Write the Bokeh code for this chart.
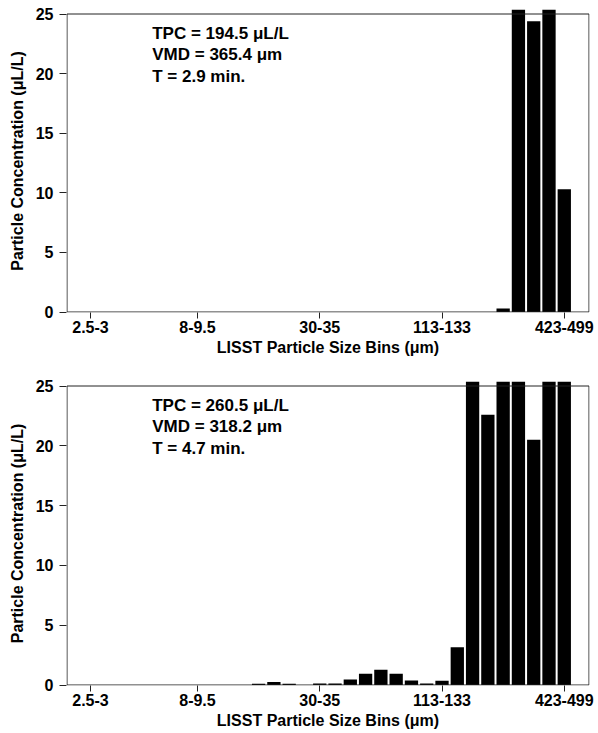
from bokeh.plotting import figure
from bokeh.layouts import column
from bokeh.models import ColumnDataSource, Range1d, FixedTicker, BoxAnnotation, Label
from bokeh.embed import file_html
from bokeh.resources import INLINE

# ---- data ----
bins = list(range(1, 33))
tick_bins = [1, 8, 16, 24, 32]
tick_labels = ["2.5-3", "8-9.5", "30-35", "113-133", "423-499"]

conc_top = [0]*27 + [0.3, 82.0, 24.4, 77.5, 10.3]
conc_bottom = ([0]*11 +
               [0.1, 0.25, 0.1, 0.0, 0.12, 0.12, 0.45, 0.95, 1.28, 0.95, 0.38, 0.12, 0.35, 3.15,
                36.0, 22.6, 42.0, 45.0, 20.5, 44.0, 42.08])

notes_top = ["TPC = 194.5 \u03bcL/L", "VMD = 365.4 \u03bcm", "T = 2.9 min."]
notes_bottom = ["TPC = 260.5 \u03bcL/L", "VMD = 318.2 \u03bcm", "T = 4.7 min."]
note_y = [23.35, 21.6, 19.75]
note_x = 5.04

x_label = "LISST Particle Size Bins (\u03bcm)"
y_label = "Particle Concentration (\u03bcL/L)"

X_START, X_END = -0.57, 33.65
Y_TOP = 25
FONT = "Liberation Sans"
FRAME_W = 523


def make(values, notes, border_top, frame_h, below):
    # pixel-aligned ranges so the 1px frame lines are crisp
    ppu = (frame_h - 5) / Y_TOP
    ys, ye = -0.5 / ppu, Y_TOP + 4.5 / ppu
    ppx = FRAME_W / (X_END - X_START)
    src = ColumnDataSource(dict(x=bins, top=values))
    p = figure(frame_width=FRAME_W, frame_height=frame_h, output_backend="svg",
               toolbar_location=None, x_range=Range1d(X_START, X_END),
               y_range=Range1d(ys, ye),
               min_border_left=66, min_border_right=9,
               min_border_top=border_top, min_border_bottom=below)
    p.vbar(x="x", top="top", width=0.87, bottom=0, source=src,
           fill_color="black", line_color=None)
    p.outline_line_color = None
    p.xgrid.visible = False
    p.ygrid.visible = False
    p.background_fill_color = "white"
    p.border_fill_color = "white"

    frame = BoxAnnotation(left=X_START + 0.5 / ppx, right=X_END - 0.5 / ppx,
                          bottom=0, top=Y_TOP,
                          fill_alpha=0, fill_color=None,
                          line_color="#222222", line_alpha=1.0, line_width=1)
    p.add_layout(frame)

    xa = p.xaxis[0]
    xa.ticker = FixedTicker(ticks=tick_bins)
    xa.major_label_overrides = {b: l for b, l in zip(tick_bins, tick_labels)}
    xa.axis_label = x_label
    xa.axis_line_color = None
    xa.major_tick_out = 6
    xa.major_tick_in = 0
    xa.minor_tick_out = 0
    xa.minor_tick_in = 0
    xa.major_label_standoff = 2
    xa.axis_label_standoff = 3

    ya = p.yaxis[0]
    ya.ticker = FixedTicker(ticks=[0, 5, 10, 15, 20, 25])
    ya.axis_label = y_label
    ya.axis_line_color = None
    ya.major_tick_out = 7
    ya.major_tick_in = 0
    ya.minor_tick_out = 0
    ya.minor_tick_in = 0
    ya.major_label_standoff = 6
    ya.axis_label_standoff = 7

    for ax in (xa, ya):
        ax.major_tick_line_color = "#222222"
        ax.major_label_text_font = FONT
        ax.major_label_text_font_style = "bold"
        ax.major_label_text_font_size = "16px"
        ax.major_label_text_color = "black"
        ax.axis_label_text_font = FONT
        ax.axis_label_text_font_style = "bold"
        ax.axis_label_text_font_size = "16px"
        ax.axis_label_text_color = "black"

    for txt, yy in zip(notes, note_y):
        p.add_layout(Label(x=note_x, y=yy, text=txt, text_font=FONT,
                           text_font_style="bold", text_font_size="17px",
                           text_baseline="middle", text_color="black"))
    return p


p1 = make(conc_top, notes_top, 9, 303, 54)
p2 = make(conc_bottom, notes_bottom, 15, 304, 48)
layout = column(p1, p2, spacing=0)

open("out.html", "w").write(file_html(layout, INLINE))
